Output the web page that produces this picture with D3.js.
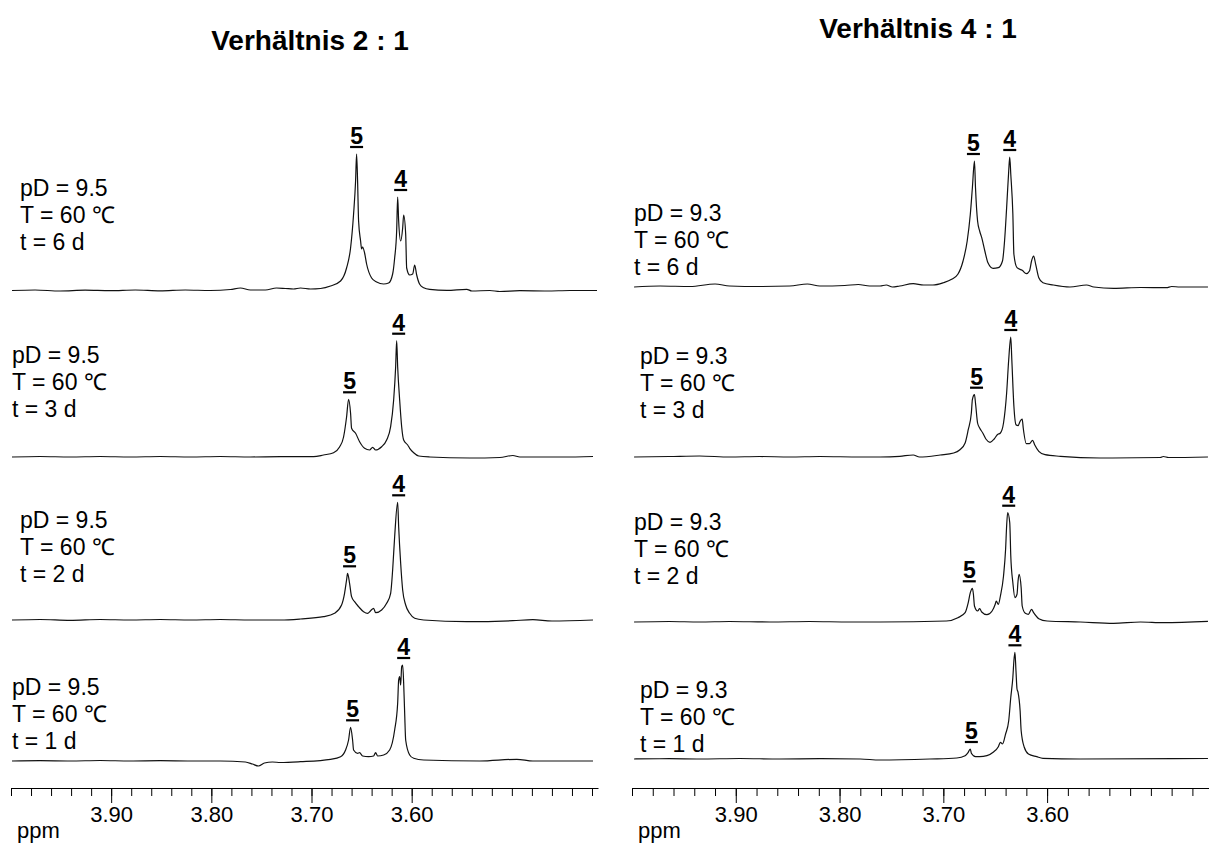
<!DOCTYPE html>
<html>
<head>
<meta charset="utf-8">
<script src="https://cdn.jsdelivr.net/npm/d3@7"></script>
<style>
  body { margin: 0; background: #fff; }
  text { font-family: Arial, "Liberation Sans", sans-serif; fill: #000; }
</style>
</head>
<body>
<svg id="chart" width="1209" height="845"></svg>
<script>
"use strict";

// titles and annotation texts
const panelTitles = ["Verhältnis 2 : 1", "Verhältnis 4 : 1"];
const pDValues = ["9.5", "9.3"];
const temperature = "60";
const days = [6, 3, 2, 1];
const majorTicks = [3.90, 3.80, 3.70, 3.60];

// spectra: [ppm, intensity above baseline]
const left6d = [[3.999,0.5],[3.976,1],[3.951,0],[3.926,0.8],[3.901,0.3],[3.876,1],[3.851,0.2],[3.826,1],[3.801,0.5],[3.781,1.5],[3.771,3],[3.761,1],[3.746,1],[3.735,3],[3.726,2.5],[3.718,2],[3.711,3],[3.701,2],[3.691,2.5],[3.681,5],[3.671,10],[3.665,23],[3.661,43],[3.658,77],[3.656,110],[3.655,137],[3.654,110],[3.653,70],[3.651,50],[3.650,42],[3.649,44],[3.647,38],[3.645,27],[3.640,13],[3.635,9],[3.628,7],[3.623,8],[3.619,17],[3.617,33],[3.615,60],[3.614,94],[3.613,70],[3.611,50],[3.609,63],[3.608,76],[3.606,57],[3.605,23],[3.602,16],[3.599,17],[3.597,26],[3.595,16],[3.592,6.7],[3.588,3.3],[3.582,1.7],[3.565,0.7],[3.545,1.7],[3.540,0],[3.522,0.5],[3.512,-0.5],[3.492,0.3],[3.465,0],[3.442,0.5],[3.415,0.5]];
const left3d = [[3.999,0],[3.971,0.5],[3.941,0],[3.911,0.5],[3.881,0],[3.851,0.5],[3.821,0],[3.791,0.5],[3.761,0],[3.731,0.3],[3.698,0.3],[3.688,2],[3.678,4.3],[3.672,10],[3.668,20],[3.665,40],[3.663,57.7],[3.661,43.7],[3.660,28.7],[3.656,23.7],[3.652,15.3],[3.647,8.7],[3.642,7],[3.639,9.7],[3.636,7],[3.630,10.3],[3.625,17],[3.621,30.3],[3.618,57],[3.616,90.3],[3.615,116.3],[3.614,90.3],[3.612,57],[3.610,30.3],[3.608,17],[3.604,12],[3.602,8.7],[3.598,4.3],[3.593,1],[3.582,0],[3.542,-1],[3.512,-0.5],[3.499,1.5],[3.492,0],[3.449,0],[3.419,0.5]];
const left2d = [[3.999,0],[3.971,0.5],[3.941,-0.3],[3.911,0.5],[3.881,0],[3.851,0.5],[3.821,0],[3.791,0.5],[3.761,0],[3.731,0],[3.711,1],[3.688,3.3],[3.677,6.7],[3.670,15],[3.667,26.7],[3.665,40],[3.664,46.7],[3.662,36.7],[3.660,23.3],[3.657,18.3],[3.653,13.3],[3.648,8.3],[3.644,6.7],[3.641,9.3],[3.638,11.7],[3.636,7.3],[3.630,10],[3.625,16.7],[3.621,26.7],[3.619,50],[3.617,83.3],[3.614,117.7],[3.613,93.3],[3.611,56.7],[3.609,30],[3.606,15],[3.602,6.7],[3.597,1.7],[3.588,0],[3.545,-1.7],[3.499,-0.7],[3.479,0.3],[3.460,-1],[3.419,0]];
const left1d = [[3.999,0],[3.971,0.3],[3.941,0],[3.911,0.5],[3.881,0],[3.851,0.3],[3.821,0],[3.791,0],[3.766,-1],[3.759,-3],[3.753,-5],[3.747,-2],[3.739,-1],[3.731,-1.5],[3.711,-0.7],[3.681,1.7],[3.671,4.3],[3.666,11],[3.663,21],[3.661,33.7],[3.659,21],[3.658,11],[3.654,7.7],[3.652,8.3],[3.649,5],[3.643,4.3],[3.638,5],[3.636,8.3],[3.634,5],[3.628,6],[3.622,11],[3.617,31],[3.614,57.7],[3.613,81],[3.612,84.3],[3.611,76],[3.610,94.3],[3.609,96],[3.608,77.7],[3.607,47.7],[3.606,21],[3.602,6],[3.598,2.7],[3.588,1],[3.532,0],[3.495,1.7],[3.479,0],[3.419,0]];

const right6d = [[3.998,0],[3.973,1],[3.944,0.5],[3.920,3],[3.906,1],[3.877,0.5],[3.848,1],[3.831,3],[3.819,1],[3.795,1.5],[3.782,2.5],[3.771,1],[3.761,1],[3.755,2],[3.749,0],[3.742,1],[3.729,3.3],[3.719,2],[3.710,2],[3.700,4.3],[3.692,7.7],[3.686,12.7],[3.681,26],[3.677,46],[3.674,72.7],[3.672,99.3],[3.670,126],[3.669,99.3],[3.667,66],[3.665,56],[3.663,49.3],[3.660,36],[3.657,24.3],[3.652,18.7],[3.647,19.3],[3.643,26],[3.641,46],[3.639,79.3],[3.637,116],[3.636,130],[3.635,112.7],[3.633,72.7],[3.632,32.7],[3.629,19.3],[3.624,16.7],[3.620,13.3],[3.617,16],[3.615,26],[3.613,31],[3.611,22.7],[3.608,9.3],[3.604,4.3],[3.594,2],[3.578,0],[3.562,2],[3.555,0],[3.536,-1.3],[3.510,-0.5],[3.485,-0.7],[3.480,0.5],[3.472,0],[3.445,0]];
const right3d = [[3.998,0],[3.964,0.5],[3.935,1],[3.906,0],[3.877,0.5],[3.848,0],[3.819,0.5],[3.780,0],[3.761,0],[3.742,0.7],[3.729,2],[3.723,0],[3.703,2],[3.690,4],[3.684,7.3],[3.679,14],[3.676,27.3],[3.673,44],[3.672,57.3],[3.670,62.3],[3.669,54],[3.667,34],[3.665,29],[3.662,24],[3.659,18],[3.655,14.7],[3.651,18],[3.648,22.3],[3.645,24],[3.642,34],[3.639,64],[3.637,97.3],[3.635,120],[3.634,97.3],[3.632,50.7],[3.630,32.3],[3.628,31.3],[3.626,35.7],[3.624,38],[3.623,29],[3.620,13.3],[3.617,13.3],[3.614,16.7],[3.612,12.3],[3.608,5.7],[3.602,2.3],[3.587,0.7],[3.549,-1],[3.491,-0.5],[3.488,0.5],[3.483,-0.5],[3.445,0]];
const right2d = [[3.998,0],[3.964,0.5],[3.935,0],[3.906,0.5],[3.867,0],[3.829,0.5],[3.790,0],[3.761,0],[3.697,1],[3.686,4.3],[3.679,9.3],[3.676,19.3],[3.674,29.3],[3.672,33.7],[3.671,27.7],[3.670,16],[3.667,11],[3.665,13.3],[3.663,10],[3.658,7.3],[3.653,11],[3.650,17.7],[3.649,21],[3.647,17.7],[3.645,26],[3.642,46],[3.640,72.7],[3.639,96],[3.638,109.3],[3.636,99.3],[3.635,66],[3.633,39.3],[3.631,24.3],[3.629,27.7],[3.628,41],[3.627,47.7],[3.625,34.3],[3.624,16],[3.621,8.7],[3.618,7.7],[3.615,12.7],[3.613,9.3],[3.608,3.3],[3.600,1],[3.568,0],[3.536,-1.3],[3.510,0],[3.488,-0.7],[3.445,0.7]];
const right1d = [[3.998,0],[3.964,0.3],[3.935,0],[3.896,0.5],[3.858,0],[3.819,0.3],[3.780,0],[3.761,-1],[3.713,0],[3.687,1],[3.679,3.3],[3.676,6.7],[3.674,10],[3.673,5.7],[3.669,2.3],[3.665,2.3],[3.658,3.3],[3.652,6.7],[3.647,12.3],[3.645,16.7],[3.643,15],[3.640,25],[3.637,38.3],[3.635,61.7],[3.633,81.7],[3.632,98.3],[3.631,106.7],[3.630,88.3],[3.629,70],[3.628,66.7],[3.626,48.3],[3.625,28.3],[3.622,11.7],[3.618,5],[3.610,2.3],[3.604,0.7],[3.568,0],[3.445,0.5]];

// peak label positions (ppm) for compound 5 and 4, top to bottom
const label5Left = [3.655, 3.662, 3.662, 3.659];
const label4Left = [3.611, 3.613, 3.613, 3.608];
const label5Right = [3.671, 3.668, 3.675, 3.673];
const label4Right = [3.636, 3.635, 3.637, 3.631];

// layout
const axisY = 788;
const panels = [
  { title: panelTitles[0], titleX: 310, titleY: 50, pD: pDValues[0],
    ppmStart: 4.0, ppmEnd: 3.414, x0: 11, x1: 598,
    spectra: [left6d, left3d, left2d, left1d],
    lab5: label5Left, lab4: label4Left,
    bases: [291, 457, 620, 761], textX: [20, 12, 20, 12], textY: [196, 363, 528, 695] },
  { title: panelTitles[1], titleX: 918, titleY: 38, pD: pDValues[1],
    ppmStart: 4.0, ppmEnd: 3.444, x0: 632, x1: 1209,
    spectra: [right6d, right3d, right2d, right1d],
    lab5: label5Right, lab4: label4Right,
    bases: [287, 457, 622, 759], textX: [634, 640, 634, 640], textY: [221, 364, 530, 698] }
];

const svg = d3.select("#chart");

const drawPanel = function (p) {
  const x = d3.scaleLinear().domain([p.ppmStart, p.ppmEnd]).range([p.x0, p.x1]);
  const g = svg.append("g");

  // title
  g.append("text")
    .attr("x", p.titleX).attr("y", p.titleY)
    .attr("text-anchor", "middle")
    .style("font-size", "28px").style("font-weight", "bold")
    .text(p.title);

  p.spectra.forEach((spec, i) => {
    const base = p.bases[i];
    const y = d3.scaleLinear().domain([0, 100]).range([base, base - 100]);
    const line = d3.line().x(d => x(d[0])).y(d => y(d[1])).curve(d3.curveMonotoneX);

    g.append("path")
      .datum(spec)
      .attr("d", line)
      .attr("fill", "none")
      .attr("stroke", "#111")
      .attr("stroke-width", 1.2)
      .attr("stroke-linejoin", "round");

    // peak labels, placed just above the local maximum
    [["5", p.lab5[i]], ["4", p.lab4[i]]].forEach(([name, ppm]) => {
      const near = spec.filter(d => Math.abs(d[0] - ppm) <= 0.004);
      const top = d3.max(near, d => d[1]);
      const uy = y(top) - 7;
      const cx = x(ppm);
      g.append("line")
        .attr("x1", cx - 6.5).attr("x2", cx + 6.5)
        .attr("y1", uy).attr("y2", uy)
        .attr("stroke", "#000").attr("stroke-width", 2.2);
      g.append("text")
        .attr("x", cx).attr("y", uy - 3)
        .attr("text-anchor", "middle")
        .style("font-size", "23px").style("font-weight", "bold")
        .text(name);
    });

    // condition text
    const lines = ["pD = " + p.pD, "T = " + temperature + " \u2103", "t = " + days[i] + " d"];
    g.append("g").selectAll("text")
      .data(lines)
      .enter()
      .append("text")
      .attr("x", p.textX[i])
      .attr("y", (_, k) => p.textY[i] + k * 27)
      .style("font-size", "23px")
      .text(d => d);
  });

  // ppm axis with minor ticks every 0.02
  const minor = d3.range(0, 40).map(k => +(p.ppmStart - k * 0.02).toFixed(2)).filter(v => v >= p.ppmEnd);
  const axisMinor = d3.axisBottom(x).tickValues(minor).tickSize(8).tickSizeOuter(0).tickFormat("");
  const axisMajor = d3.axisBottom(x).tickValues(majorTicks).tickSize(15).tickSizeOuter(0)
    .tickPadding(3).tickFormat(d3.format(".2f"));

  g.append("g").attr("transform", "translate(0," + axisY + ")").call(axisMinor);
  const ax = g.append("g").attr("transform", "translate(0," + axisY + ")").call(axisMajor);
  ax.select(".domain").remove();
  g.selectAll(".tick line, .domain").attr("stroke", "#000").attr("stroke-width", 1);
  ax.selectAll("text").style("font-size", "22px").style("font-family", "Arial, 'Liberation Sans', sans-serif").attr("fill", "#000");

  g.append("text")
    .attr("x", p.x0 + 6).attr("y", 838)
    .style("font-size", "22px")
    .text("ppm");
};

panels.forEach(drawPanel);
</script>
</body>
</html>
